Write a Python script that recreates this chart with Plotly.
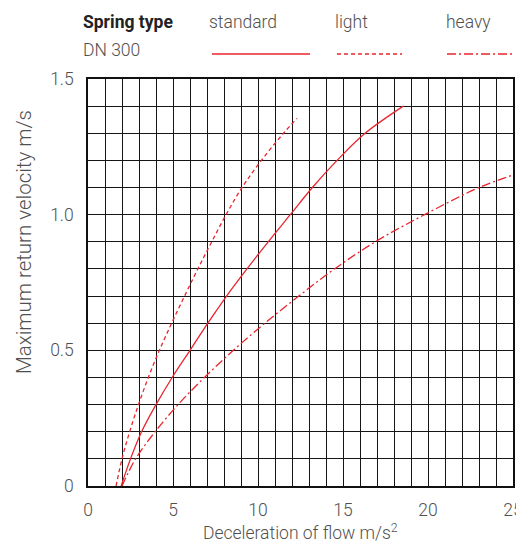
import plotly.graph_objects as go

# ---- data ----
standard_y = [0.0, 0.1, 0.2, 0.3, 0.4, 0.5, 0.6, 0.7, 0.8, 0.9, 1.0, 1.1, 1.2, 1.3, 1.4]
standard_x = [1.95, 2.5, 3.15, 4.0, 4.95, 6.0, 7.05, 8.15, 9.35, 10.6, 11.9, 13.2, 14.65, 16.3, 18.55]

light_y = [0.0, 0.1, 0.2, 0.3, 0.4, 0.5, 0.6, 0.7, 0.8, 0.9, 1.0, 1.1, 1.2, 1.3, 1.355]
light_x = [1.65, 2.0, 2.45, 2.97, 3.55, 4.2, 4.92, 5.68, 6.46, 7.28, 8.12, 9.06, 10.2, 11.5, 12.3]

heavy_y = [0.0, 0.1, 0.2, 0.3, 0.4, 0.5, 0.6, 0.7, 0.8, 0.9, 1.0, 1.1, 1.146]
heavy_x = [2.0, 2.8, 3.95, 5.3, 6.85, 8.55, 10.4, 12.4, 14.5, 16.9, 19.8, 23.0, 25.0]

x_tickvals = [0, 5, 10, 15, 20, 25]
x_ticktext = ["0", "5", "10", "15", "20", "25"]
y_tickvals = [0, 0.5, 1.0, 1.5]
y_ticktext = ["0", "0.5", "1.0", "1.5"]

RED = "#e8262d"
TXT = "#505050"
FONT = "Roboto"
FS = 17.5
W, H = 516, 547
L, R, T, B = 88, 3, 79, 61
PW, PH = W - L - R, H - T - B


def px(xp):
    return (xp - L) / PW


def py(yp):
    return (H - B - yp) / PH


def tfont(color=TXT, weight=300, size=FS):
    return dict(family=FONT, color=color, size=size, weight=weight)


fig = go.Figure()
fig.add_trace(go.Scatter(x=standard_x, y=standard_y, mode="lines", line_shape="spline",
                         line=dict(color=RED, width=1.3), name="standard"))
fig.add_trace(go.Scatter(x=light_x, y=light_y, mode="lines", line_shape="spline",
                         line=dict(color=RED, width=1.3, dash="4px,3px"), name="light"))
fig.add_trace(go.Scatter(x=heavy_x, y=heavy_y, mode="lines", line_shape="spline",
                         line=dict(color=RED, width=1.3, dash="9px,3px,2px,3px"), name="heavy"))

fig.update_layout(
    width=W, height=H,
    margin=dict(l=L, r=R, t=T, b=B, autoexpand=False),
    paper_bgcolor="white", plot_bgcolor="white",
    showlegend=False,
    font=tfont(),
    xaxis=dict(range=[0, 25], showgrid=True, gridcolor="#151515", gridwidth=1.3,
               tickmode="array", tickvals=x_tickvals, ticktext=x_ticktext,
               minor=dict(dtick=1, tick0=0, showgrid=True, gridcolor="#151515", gridwidth=1.3),
               showline=True, linecolor="#111", linewidth=1.5, mirror=True,
               ticks="outside", ticklen=7, tickcolor="rgba(0,0,0,0)",
               ticklabeloverflow="allow", automargin=False,
               tickfont=tfont(), zeroline=False),
    yaxis=dict(range=[0, 1.5], showgrid=True, gridcolor="#151515", gridwidth=1.3,
               tickmode="array", tickvals=y_tickvals, ticktext=y_ticktext,
               minor=dict(dtick=0.1, tick0=0, showgrid=True, gridcolor="#151515", gridwidth=1.3),
               showline=True, linecolor="#111", linewidth=1.5, mirror=True,
               ticks="outside", ticklen=9, tickcolor="rgba(0,0,0,0)",
               automargin=False,
               tickfont=tfont(), zeroline=False),
)

ann = []
# axis titles
ann.append(dict(text="Deceleration of flow m/s<sup>2</sup>", xref="paper", yref="paper",
                x=0.5, y=py(532), xanchor="center", yanchor="middle", showarrow=False,
                font=tfont()))
ann.append(dict(text="Maximum return velocity m/s", xref="paper", yref="paper",
                x=px(24), y=py(242), xanchor="center", yanchor="middle", textangle=-90,
                showarrow=False, font=tfont(size=20.5)))
# legend header
ann.append(dict(text="<b>Spring type</b>", xref="paper", yref="paper", x=px(81), y=py(22),
                xanchor="left", yanchor="middle", showarrow=False,
                font=tfont(color="#222", weight=700)))
ann.append(dict(text="DN 300", xref="paper", yref="paper", x=px(81), y=py(50),
                xanchor="left", yanchor="middle", showarrow=False, font=tfont()))
for label, xl in [("standard", 207), ("light", 333), ("heavy", 444)]:
    ann.append(dict(text=label, xref="paper", yref="paper", x=px(xl), y=py(22),
                    xanchor="left", yanchor="middle", showarrow=False, font=tfont()))
fig.update_layout(annotations=ann)

shapes = []
for (x0, x1, dash) in [(212, 310, "solid"), (337, 402, "4px,3px"), (447, 512, "9px,3px,2px,3px")]:
    shapes.append(dict(type="line", xref="paper", yref="paper", x0=px(x0), x1=px(x1),
                       y0=py(54), y1=py(54), line=dict(color=RED, width=1.3, dash=dash)))
fig.update_layout(shapes=shapes)

fig.write_html("out.html")
